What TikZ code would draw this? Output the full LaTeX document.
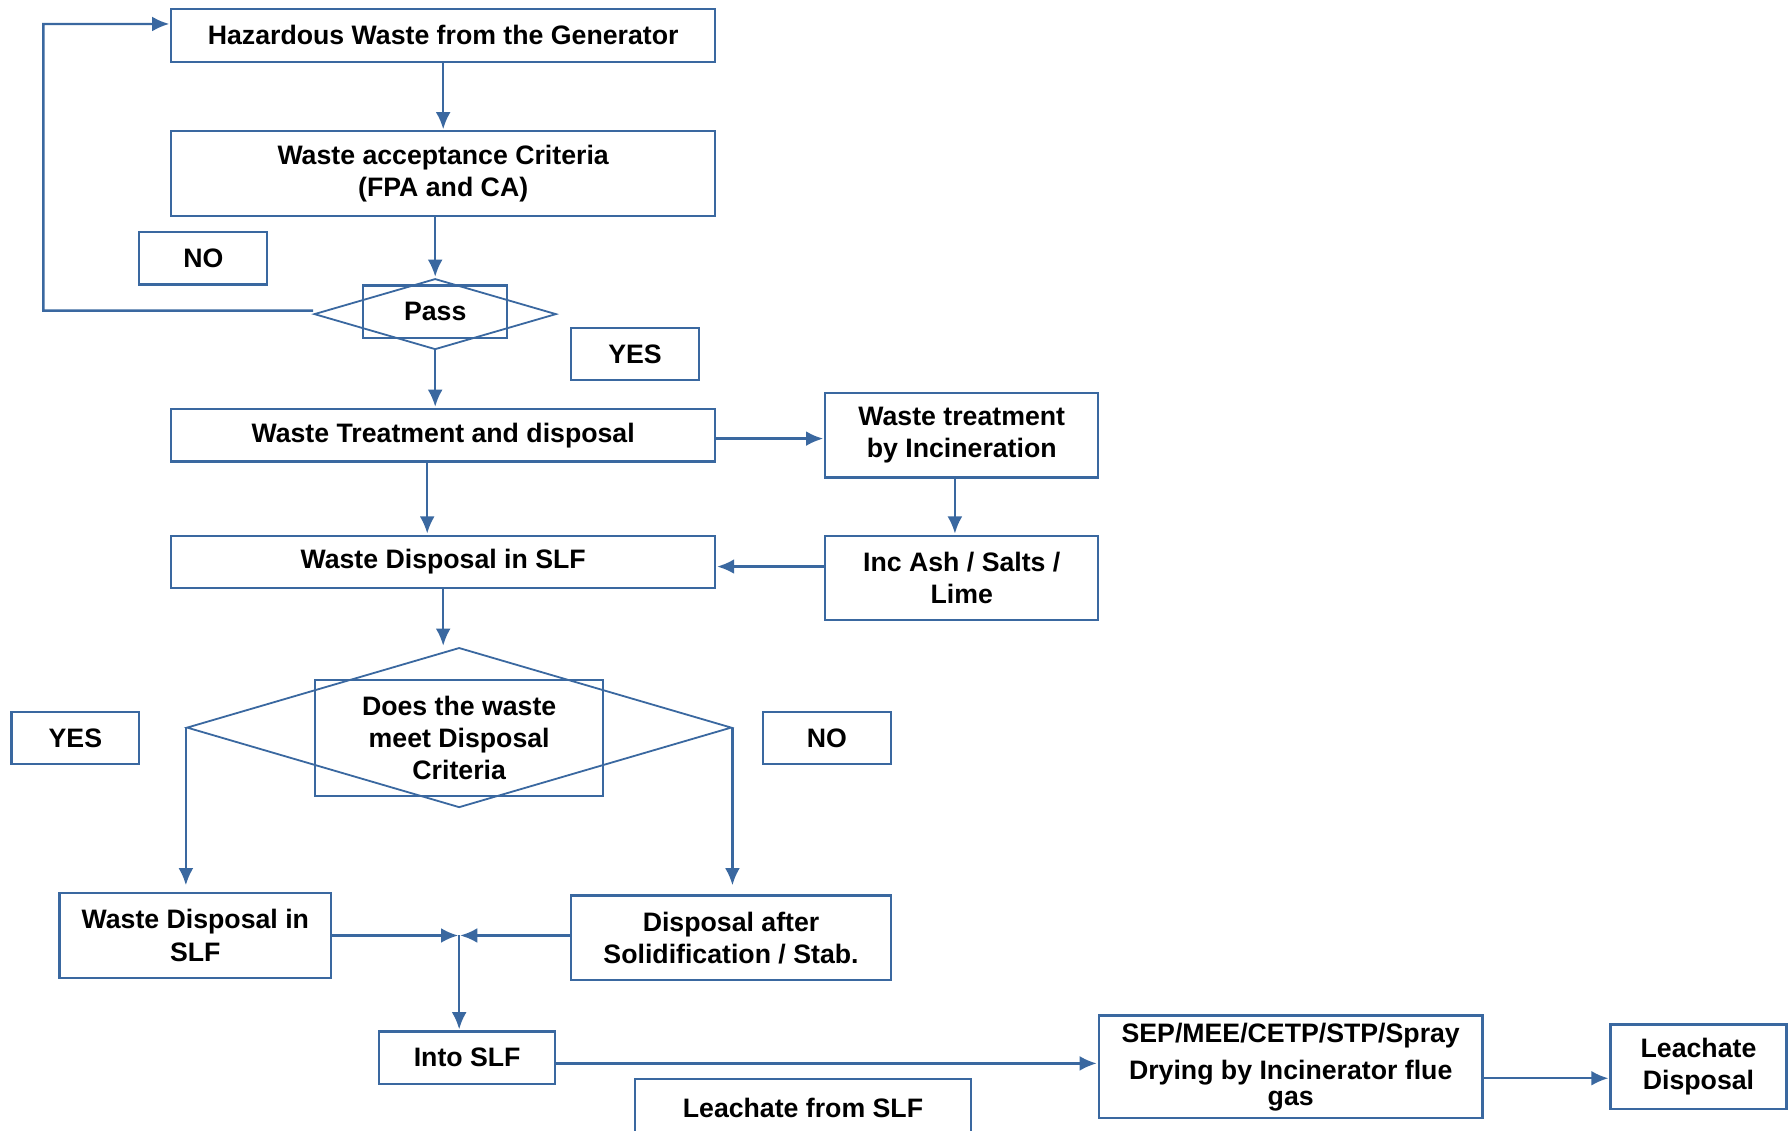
\documentclass[tikz,border=0pt]{standalone}
\usepackage{fontspec}
\setmainfont{Liberation Sans}
\usetikzlibrary{shapes.geometric,arrows.meta}
\definecolor{flowblue}{RGB}{58,104,160}
\begin{document}
\begin{tikzpicture}[x=0.02cm,y=-0.02cm,
    every node/.style={draw=flowblue,line width=1.1pt,font=\fontsize{13.3}{16}\selectfont\bfseries,align=center,inner sep=0pt},
    wide/.style={minimum width=9.52cm,minimum height=0.92cm},
    tag/.style={minimum width=2.24cm,minimum height=0.92cm},
    dia/.style={diamond,line width=0.9pt},
    arw/.style={line width=1.2pt,draw=flowblue,shorten >=0.5pt,-{Latex[length=3mm,width=2.6mm]}}]
  \useasboundingbox (0,0) rectangle (1568,990);
  \node[wide] (gen) at (388,31) {Hazardous Waste from the Generator};
  \node[wide,minimum height=1.48cm] (wac) at (388,152) {Waste acceptance Criteria\\(FPA and CA)};
  \node[tag] (no1) at (178,226) {NO};
  \node[dia,minimum width=4.24cm,minimum height=1.24cm] (passd) at (381,275) {};
  \node[minimum width=2.52cm,minimum height=0.92cm] (pass) at (381,273) {Pass};
  \node[tag] (yes1) at (556,310) {YES};
  \node[wide] (wtd) at (388,381) {Waste Treatment and disposal};
  \node[minimum width=4.78cm,minimum height=1.48cm] (inc) at (842,381) {Waste treatment\\by Incineration};
  \node[minimum width=4.78cm,minimum height=1.48cm] (ash) at (842,506) {Inc Ash / Salts /\\Lime};
  \node[wide] (wds) at (388,492) {Waste Disposal in SLF};
  \node[dia,minimum width=9.54cm,minimum height=2.8cm] (critd) at (402,637) {};
  \node[minimum width=5.04cm,minimum height=2.04cm] (crit) at (402,646) {Does the waste\\meet Disposal\\Criteria};
  \node[tag] (yes2) at (66,646) {YES};
  \node[tag] (no2) at (724,646) {NO};
  \node[minimum width=4.76cm,minimum height=1.48cm] (wds2) at (171,819) {Waste Disposal in\\SLF};
  \node[minimum width=5.6cm,minimum height=1.48cm] (dsol) at (640,821) {Disposal after\\Solidification / Stab.};
  \node[minimum width=3.08cm,minimum height=0.92cm] (into) at (409,926) {Into SLF};
  \node[minimum width=6.72cm,minimum height=1.8cm] (sep) at (1130,934) {SEP/MEE/CETP/STP/Spray\\[2.5pt]Drying by Incinerator flue\\[-3pt]gas};
  \node[minimum width=3.08cm,minimum height=1.48cm] (lds) at (1487,934) {Leachate\\Disposal};
  \node[minimum width=5.88cm,minimum height=1.02cm] (lfs) at (703,970) {Leachate from SLF};
  \coordinate (loop) at (38,272);
  \coordinate (join) at (402,819);
  \draw[arw] (gen) -- (wac);
  \draw[arw] (passd.north |- wac.south) -- (passd.north);
  \draw[arw] ([yshift=0.06cm]passd.west) -- (loop) |- ([yshift=0.2cm]gen.west);
  \draw[arw] (passd.south) -- (passd.south |- wtd.north);
  \draw[arw] ([yshift=-0.06cm]wtd.east) -- ([yshift=-0.06cm]inc.west);
  \draw[arw] ([xshift=-0.12cm]inc.south) -- ([xshift=-0.12cm]ash.north);
  \draw[arw] ([yshift=-0.08cm]wds.east -| ash.west) -- ([yshift=-0.08cm]wds.east);
  \draw[arw] ([xshift=-0.28cm]wtd.south) -- ([xshift=-0.28cm]wds.north);
  \draw[arw] (wds.south) -- (wds.south |- critd.north);
  \draw[arw,shorten >=0.12cm] (critd.west) -- (critd.west |- wds2.north);
  \draw[arw,shorten >=0.16cm] (critd.east) -- (critd.east |- dsol.north);
  \draw[arw] (wds2.east |- join) -- (join);
  \draw[arw] (dsol.west |- join) -- (join);
  \draw[arw] (join) -- (join |- into.north);
  \draw[arw] ([yshift=-0.1cm]into.east) -- ([yshift=-0.1cm]into.east -| sep.west);
  \draw[arw] ([yshift=-0.2cm]sep.east) -- ([yshift=-0.2cm]lds.west);
\end{tikzpicture}
\end{document}
